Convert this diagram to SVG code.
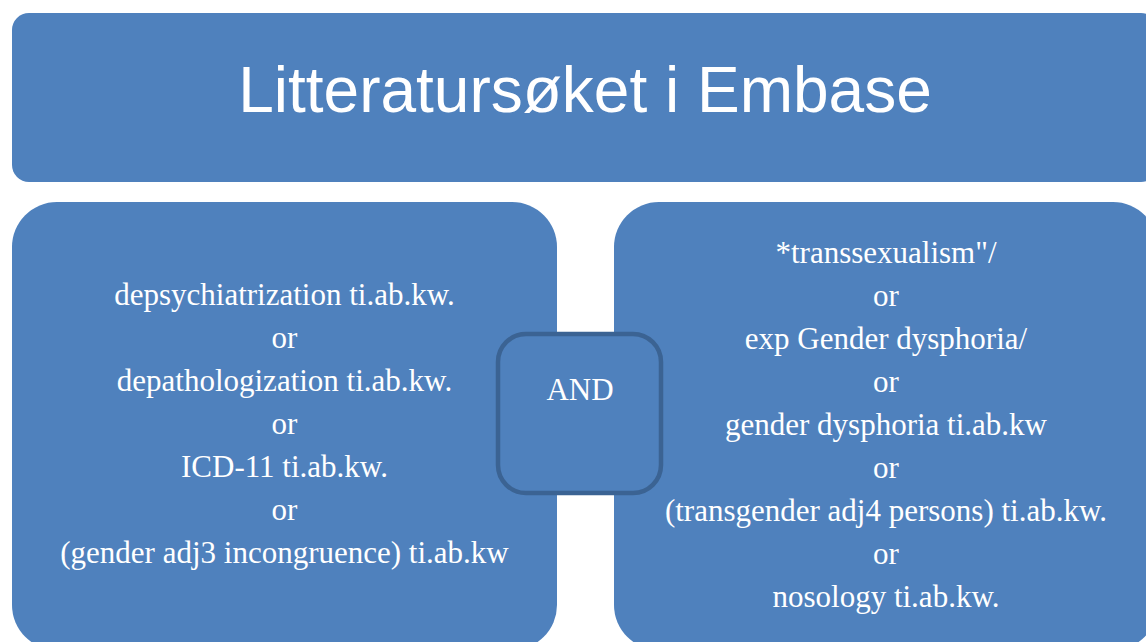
<svg xmlns="http://www.w3.org/2000/svg" width="1146" height="642" viewBox="0 0 1146 642">
  <style>
    .box { fill: #4F81BD; }
    .join { fill: #4F81BD; stroke: #3B6393; stroke-width: 4.5; }
    .title { font-family: "Liberation Sans", Arial, sans-serif; font-size: 64px; fill: #FFFFFF; text-anchor: middle; }
    .body { font-family: "Liberation Serif", "Times New Roman", serif; font-size: 31px; fill: #FFFFFF; text-anchor: middle; }
  </style>
  <rect width="1146" height="642" fill="#FFFFFF"/>

  <!-- heading banner -->
  <g id="title">
    <rect class="box" x="12" y="13" width="1146" height="169" rx="17" ry="17"/>
    <text class="title" x="585" y="112">Litteratursøket i Embase</text>
  </g>

  <!-- first search block -->
  <g id="block-left">
    <rect class="box" x="12" y="202" width="545" height="448" rx="45" ry="45"/>
    <text class="body" x="284.5" y="305">depsychiatrization ti.ab.kw.</text>
    <text class="body" x="284.5" y="348">or</text>
    <text class="body" x="284.5" y="391">depathologization ti.ab.kw.</text>
    <text class="body" x="284.5" y="434">or</text>
    <text class="body" x="284.5" y="477">ICD-11 ti.ab.kw.</text>
    <text class="body" x="284.5" y="520">or</text>
    <text class="body" x="284.5" y="563">(gender adj3 incongruence) ti.ab.kw</text>
  </g>

  <!-- second search block -->
  <g id="block-right">
    <rect class="box" x="614" y="202" width="544" height="448" rx="45" ry="45"/>
    <text class="body" x="886" y="263">*transsexualism"/</text>
    <text class="body" x="886" y="306">or</text>
    <text class="body" x="886" y="349">exp Gender dysphoria/</text>
    <text class="body" x="886" y="392">or</text>
    <text class="body" x="886" y="435">gender dysphoria ti.ab.kw</text>
    <text class="body" x="886" y="478">or</text>
    <text class="body" x="886" y="521">(transgender adj4 persons) ti.ab.kw.</text>
    <text class="body" x="886" y="564">or</text>
    <text class="body" x="886" y="607">nosology ti.ab.kw.</text>
  </g>

  <!-- no drawn connectors; the AND operator sits between the blocks -->
  <g id="connectors"></g>

  <g id="and">
    <rect class="join" x="498" y="334" width="163" height="159" rx="28" ry="28"/>
    <text class="body" x="580" y="400">AND</text>
  </g>
</svg>
